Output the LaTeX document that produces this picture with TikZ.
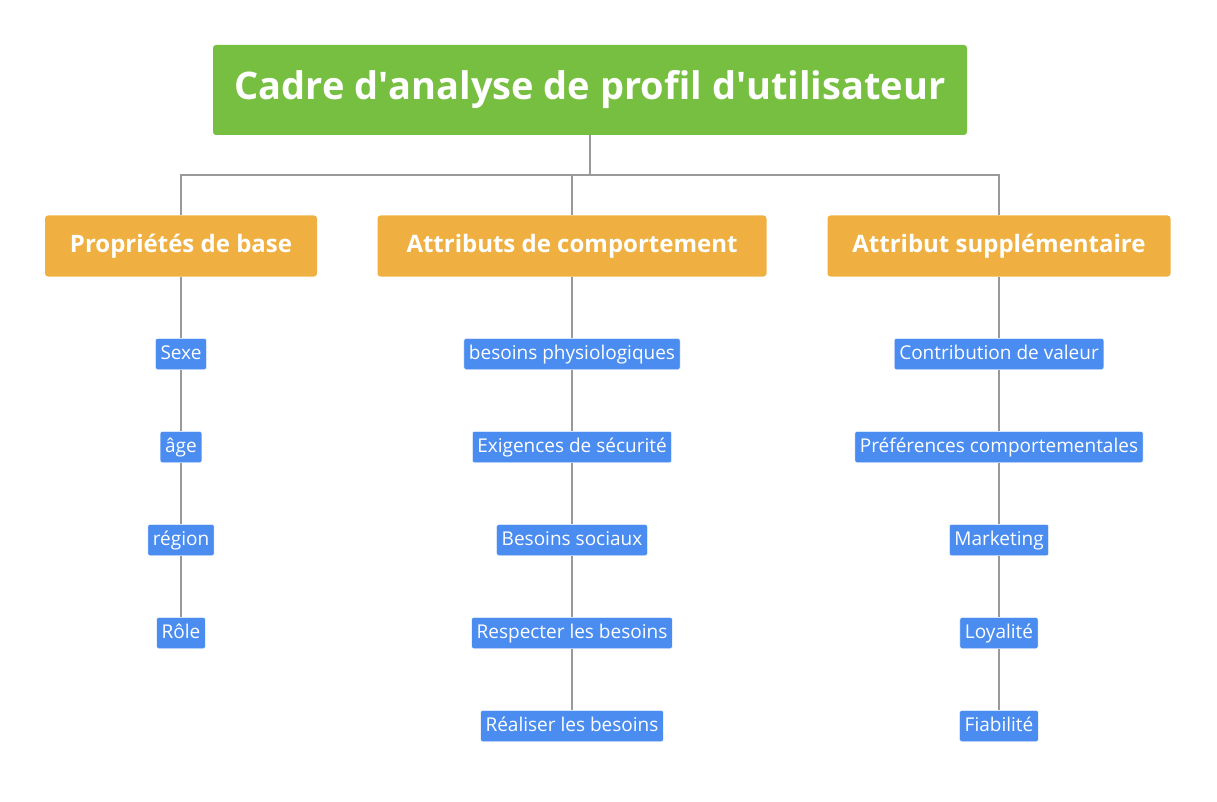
\documentclass[tikz,border=0pt]{standalone}
\usepackage{fontspec}
\setmainfont{Open Sans}
\usetikzlibrary{positioning}

\definecolor{rootgreen}{HTML}{76BF41}
\definecolor{branchorange}{HTML}{EFB041}
\definecolor{leafblue}{HTML}{4A8CF0}

\tikzset{
    rootbox/.style={fill=rootgreen, text=white, rounded corners=3pt, minimum width=754pt, minimum height=90pt, font=\fontsize{38}{44}\selectfont\bfseries},
    branchbox/.style={fill=branchorange, text=white, rounded corners=3pt, minimum height=61pt, inner xsep=0pt, font=\fontsize{24}{28}\selectfont\bfseries},
    leafbox/.style={fill=leafblue, text=white, draw=white, rounded corners=2pt, minimum height=31pt, text height=14pt, text depth=4pt, inner xsep=5pt, font=\fontsize{19}{22}\selectfont},
    link/.style={draw=gray!80, line width=1.2pt}
}

\begin{document}
\begin{tikzpicture}[x=1pt, y=-1pt]
    \useasboundingbox (0,0) rectangle (1217,802);

    \node[rootbox] (root) at (590,90) {Cadre d\textquotesingle analyse de profil d\textquotesingle utilisateur};

    \node[branchbox, minimum width=272pt] (base) at (181,246) {Propriétés de base};
    \node[branchbox, minimum width=389pt] (comp) at (572,246) {Attributs de comportement};
    \node[branchbox, minimum width=343pt] (supp) at (999,246) {Attribut supplémentaire};

    \coordinate (split) at (590,175);
    \draw[link] (root.south) -- (split);
    \foreach \b in {base, comp, supp}{
        \draw[link] (split) -| (\b.north);
    }

    % feuilles
    \def \rows {{354, 447, 540, 633, 726}}

    \foreach [count=\i from 0] \t in {Sexe, âge, région, Rôle}{
        \pgfmathsetmacro{\ypos}{\rows[\i]}
        \node[leafbox] (base\i) at (181,\ypos) {\t};
    }
    \foreach [count=\i from 0] \t in {besoins physiologiques, Exigences de sécurité, Besoins sociaux, Respecter les besoins, Réaliser les besoins}{
        \pgfmathsetmacro{\ypos}{\rows[\i]}
        \node[leafbox] (comp\i) at (572,\ypos) {\t};
    }
    \foreach [count=\i from 0] \t in {Contribution de valeur, Préférences comportementales, Marketing, Loyalité, Fiabilité}{
        \pgfmathsetmacro{\ypos}{\rows[\i]}
        \node[leafbox] (supp\i) at (999,\ypos) {\t};
    }

    \draw[link] (base.south) -- (base0.north);
    \draw[link] (comp.south) -- (comp0.north);
    \draw[link] (supp.south) -- (supp0.north);
    \foreach \a/\b in {0/1, 1/2, 2/3}{
        \draw[link] (base\a.south) -- (base\b.north);
    }
    \foreach \a/\b in {0/1, 1/2, 2/3, 3/4}{
        \draw[link] (comp\a.south) -- (comp\b.north);
        \draw[link] (supp\a.south) -- (supp\b.north);
    }
\end{tikzpicture}
\end{document}
